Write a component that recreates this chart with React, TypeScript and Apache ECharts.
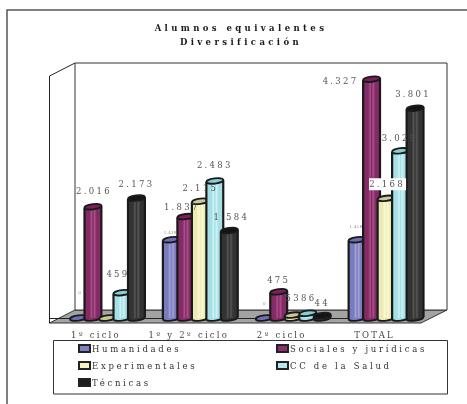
import React, { useEffect, useRef } from "react";
import * as echarts from "echarts";

const categories = ["1º ciclo", "1º y 2º ciclo", "2º ciclo", "TOTAL"];
const seriesNames = ["Humanidades", "Sociales y jurídicas", "Experimentales", "CC de la Salud", "Técnicas"];
const humanidades = [0, 1418, 0, 1418];
const sociales = [2016, 1837, 475, 4327];
const experimentales = [0, 2115, 53, 2168];
const salud = [459, 2483, 86, 3029];
const tecnicas = [2173, 1584, 44, 3801];
const seriesValues = [humanidades, sociales, experimentales, salud, tecnicas];

// label placement relative to each bar's top (dx, dy); null = no label drawn
const labelNudges: ([number, number] | null)[][] = [
  [[1, -26], [-1, -7], [0, -15], [-1, -13]],
  [[1, -16], [-4, -10], [0, -12], [-31, 2]],
  [null, [0, -13], [0, -17], [1, -14]],
  [[-4, -19], [0, -16], [1, -15], [-1, -13]],
  [[0, -14], [2, -14], [0, -13], [-2, -14]],
];

const palette = [
  { rim: "#6e6eb4", dark: "#7a7abf", light: "#a3a4d8", legend: "#7f7fc4" },
  { rim: "#7a2159", dark: "#842a66", light: "#a84f88", legend: "#8e2e6e" },
  { rim: "#c9c998", dark: "#ecebb6", light: "#fbfbd6", legend: "#f6f5c0" },
  { rim: "#86cfd6", dark: "#a4e0e5", light: "#cff1f4", legend: "#b5e8ec" },
  { rim: "#141414", dark: "#333333", light: "#565656", legend: "#1c1c1c" },
];

const OUTLINE = "#1a1a1a";
const FONT = '"DejaVu Serif", serif';
const BAR_STEP = 14.5;
const BAR_SHIFT = 11.5;
const RX = 8.5;
const RY = 2.6;
const TILT = 0.12;

const fmt = (v: number) => String(v).replace(/\B(?=(\d{3})+$)/g, ".");

function bodyFill(p: { dark: string; light: string }) {
  return new echarts.graphic.LinearGradient(0, 0, 1, 0, [
    { offset: 0, color: p.dark },
    { offset: 0.3, color: p.dark },
    { offset: 0.42, color: p.light },
    { offset: 0.5, color: p.dark },
    { offset: 0.6, color: p.light },
    { offset: 0.72, color: p.dark },
    { offset: 1, color: p.dark },
  ]);
}

function makeRenderItem(si: number) {
  return (params: any, api: any) => {
    const cat = api.value(0);
    const val = api.value(1);
    const top = api.coord([cat, val]);
    const base = api.coord([cat, 0]);
    const cx = top[0] + BAR_SHIFT + (si - 2) * BAR_STEP;
    const p = palette[si];
    const dy = RX * Math.sin(TILT);
    const dx = RX * Math.cos(TILT);
    const children: any[] = [];
    const ell = (y: number, fill: any) => ({
      type: "ellipse",
      x: cx,
      y,
      rotation: TILT,
      shape: { cx: 0, cy: 0, rx: RX, ry: RY },
      style: { fill, stroke: OUTLINE, lineWidth: 1.8 },
    });
    if (val > 0) {
      children.push(ell(base[1], p.dark));
      children.push({
        type: "polygon",
        shape: {
          points: [
            [cx - dx, top[1] + dy],
            [cx + dx, top[1] - dy],
            [cx + dx, base[1] - dy],
            [cx - dx, base[1] + dy],
          ],
        },
        style: { fill: bodyFill(p) },
      });
      children.push({
        type: "line",
        shape: { x1: cx - dx, y1: top[1] + dy, x2: cx - dx, y2: base[1] + dy },
        style: { stroke: OUTLINE, lineWidth: 2.2 },
      });
      children.push({
        type: "line",
        shape: { x1: cx + dx, y1: top[1] - dy, x2: cx + dx, y2: base[1] - dy },
        style: { stroke: OUTLINE, lineWidth: 2.2 },
      });
    }
    children.push(ell(top[1], p.rim));
    const nudge = labelNudges[si][params.dataIndex];
    if (nudge) {
      const tiny = si === 0;
      const boxed = si === 2 && params.dataIndex === 3;
      const lx = cx + nudge[0];
      const ly = top[1] + nudge[1];
      if (boxed) {
        children.push({
          type: "rect",
          z2: 99,
          shape: { x: lx - 18, y: ly - 6, width: 37, height: 12 },
          style: { fill: "#ffffff" },
        });
      }
      children.push({
        type: "text",
        z2: 100,
        style: {
          text: fmt(val),
          x: lx,
          y: ly,
          fill: tiny ? "#8a8a8a" : "#555555",
          font: `${tiny ? 4 : 8.5}px ${FONT}`,
          align: "center",
          verticalAlign: "middle",
        },
      });
    }
    return { type: "group", children };
  };
}

const spacingByText = (t: string) => {
  if (t === "Alumnos equivalentes" || t === "Diversificación") return 3.4;
  if (categories.includes(t)) return 2.2;
  if (seriesNames.includes(t)) return 2.7;
  if (t.length <= 1) return 0;
  if (t === "1.418") return 0.3;
  return 2.3;
};

export default function App() {
  const ref = useRef<HTMLDivElement>(null);
  useEffect(() => {
    const chart = echarts.init(ref.current!, null, { renderer: "svg" });
    const legendBase = {
      orient: "vertical" as const,
      padding: 0,
      itemGap: 8,
      itemWidth: 11,
      itemHeight: 7,
      icon: "rect",
      textStyle: { fontFamily: FONT, fontSize: 8.5, color: "#333333", padding: [0, 0, 0, -3] },
    };
    chart.setOption({
      animation: false,
      backgroundColor: "#ffffff",
      title: {
        text: "Alumnos equivalentes\nDiversificación",
        left: 236,
        top: 16,
        textAlign: "center",
        textStyle: { fontFamily: FONT, fontSize: 8.5, fontWeight: "bold", color: "#1a1a1a", lineHeight: 14 },
      },
      grid: { left: 49.5, width: 371.5, top: 42, height: 276 },
      xAxis: {
        type: "category",
        data: categories,
        offset: 5,
        axisLine: { lineStyle: { color: "#222222", width: 1 } },
        axisTick: { length: 4, alignWithLabel: false, lineStyle: { color: "#222222" } },
        axisLabel: { fontFamily: FONT, fontSize: 8.5, color: "#444444", margin: 7 },
      },
      yAxis: { type: "value", min: 0, max: 5000, show: false, splitLine: { show: false } },
      legend: [
        { ...legendBase, left: 78, top: 344, data: [seriesNames[0], seriesNames[2], seriesNames[4]] },
        { ...legendBase, left: 276, top: 344, data: [seriesNames[1], seriesNames[3]] },
      ],
      graphic: [
        { type: "polyline", shape: { points: [[7, 404], [7, 10], [467, 10]] }, style: { fill: "none", stroke: "#555555", lineWidth: 1.5 } },
        { type: "polygon", shape: { points: [[49.5, 323], [75, 310], [447, 310], [421, 323]] }, style: { fill: "#a3a3a3", stroke: "#333333", lineWidth: 1 } },
        { type: "rect", shape: { x: 75, y: 63, width: 372, height: 247 }, style: { fill: "#ffffff", stroke: "#333333", lineWidth: 1 } },
        { type: "polyline", shape: { points: [[49.5, 323], [49.5, 76], [75, 63]] }, style: { fill: "none", stroke: "#222222", lineWidth: 1 } },
        { type: "rect", shape: { x: 53.5, y: 340.5, width: 394, height: 53.5 }, style: { fill: "#ffffff", stroke: "#333333", lineWidth: 1 } },
      ],
      series: seriesNames.map((name, si) => ({
        name,
        type: "custom",
        coordinateSystem: "cartesian2d",
        clip: false,
        silent: true,
        itemStyle: { color: palette[si].legend, borderColor: "#222222", borderWidth: 1.5 },
        encode: { x: 0, y: 1 },
        data: seriesValues[si].map((v, c) => [c, v]),
        renderItem: makeRenderItem(si),
      })),
    });
    const spaced = () => {
      ref.current?.querySelectorAll("text").forEach((el: any) => {
        el.style.letterSpacing = `${spacingByText((el.textContent || "").trim())}px`;
      });
    };
    spaced();
    chart.on("finished", spaced);
    return () => chart.dispose();
  }, []);
  return (
    <div
      ref={ref}
      style={{ position: "absolute", left: 0, top: 0, width: 467, height: 404, filter: "blur(0.35px)" }}
    />
  );
}
